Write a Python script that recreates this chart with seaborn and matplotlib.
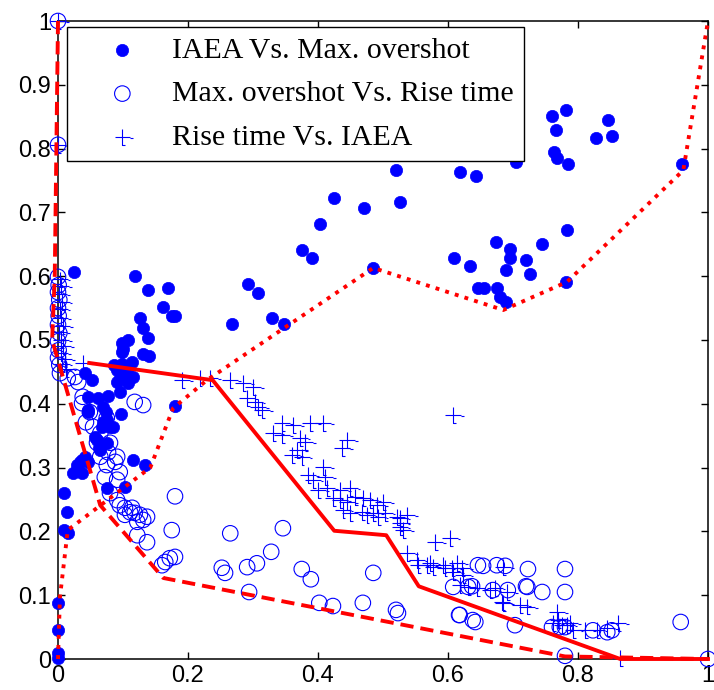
import numpy as np
import matplotlib
matplotlib.use('Agg')
import matplotlib.pyplot as plt
from matplotlib.path import Path
import seaborn as sns

# IAEA Vs. Max. overshot (filled dots)
iaea_x = [0.760, 0.782, 0.766, 0.846, 0.828, 0.852, 0.763, 0.768, 0.785, 0.705,
          0.520, 0.618, 0.643, 0.471, 0.526, 0.960, 0.783, 0.674, 0.745, 0.695,
          0.695, 0.609, 0.634, 0.720, 0.689, 0.726, 0.485, 0.646, 0.655, 0.675,
          0.680, 0.689, 0.782, 0.425, 0.403, 0.375, 0.391, 0.292, 0.308, 0.268,
          0.329, 0.348, 0.025, 0.118, 0.138, 0.169, 0.162, 0.175, 0.180, 0.126,
          0.131, 0.138, 0.108, 0.098, 0.100, 0.131, 0.140, 0.114, 0.098, 0.086,
          0.091, 0.106, 0.103, 0.095, 0.115, 0.091, 0.108, 0.042, 0.052, 0.095,
          0.077, 0.046, 0.062, 0.180, 0.069, 0.074, 0.046, 0.097, 0.075, 0.068,
          0.085, 0.060, 0.075, 0.063, 0.037, 0.115, 0.134, 0.029, 0.023, 0.037,
          0.034, 0.042, 0.075, 0.103, 0.009, 0.014, 0.009, 0.015, 0.000, 0.000,
          0.000, 0.000, 0.069, 0.080, 0.057, 0.065, 0.046, 0.046, 0.098]
iaea_y = [0.851, 0.860, 0.829, 0.845, 0.817, 0.820, 0.795, 0.785, 0.776, 0.779,
          0.766, 0.763, 0.757, 0.707, 0.716, 0.776, 0.672, 0.654, 0.650, 0.643,
          0.629, 0.629, 0.616, 0.625, 0.610, 0.603, 0.613, 0.582, 0.582, 0.582,
          0.567, 0.560, 0.591, 0.723, 0.682, 0.641, 0.629, 0.588, 0.574, 0.525,
          0.534, 0.525, 0.607, 0.600, 0.578, 0.582, 0.552, 0.538, 0.538, 0.534,
          0.519, 0.503, 0.500, 0.495, 0.486, 0.478, 0.475, 0.466, 0.462, 0.461,
          0.453, 0.453, 0.442, 0.440, 0.442, 0.434, 0.433, 0.448, 0.437, 0.418,
          0.412, 0.411, 0.409, 0.397, 0.395, 0.387, 0.387, 0.384, 0.375, 0.364,
          0.364, 0.343, 0.339, 0.331, 0.312, 0.312, 0.304, 0.304, 0.292, 0.292,
          0.309, 0.317, 0.268, 0.270, 0.260, 0.230, 0.202, 0.197, 0.088, 0.045,
          0.009, 0.002, 0.371, 0.364, 0.348, 0.328, 0.309, 0.390, 0.481]

# Max. overshot Vs. Rise time (open circles)
over_x = [0.000, 0.000, 0.000, 0.001, 0.000, 0.002, 0.000, 0.001, 0.000, 0.002,
          0.000, 0.001, 0.000, 0.002, 0.003, 0.015, 0.026, 0.031, 0.038, 0.037,
          0.049, 0.043, 0.054, 0.065, 0.060, 0.080, 0.077, 0.091, 0.065, 0.118,
          0.131, 0.075, 0.075, 0.088, 0.095, 0.072, 0.091, 0.080, 0.091, 0.095,
          0.103, 0.111, 0.118, 0.126, 0.137, 0.131, 0.103, 0.114, 0.122, 0.180,
          0.122, 0.137, 0.175, 0.165, 0.160, 0.172, 0.265, 0.252, 0.257, 0.180,
          0.346, 0.328, 0.306, 0.291, 0.294, 0.375, 0.389, 0.402, 0.423, 0.469,
          0.485, 0.520, 0.523, 0.618, 0.638, 0.642, 0.703, 0.608, 0.646, 0.654,
          0.675, 0.688, 0.723, 0.780, 0.631, 0.692, 0.722, 0.745, 0.780, 0.760,
          0.772, 0.637, 0.669, 0.720, 0.617, 0.823, 0.845, 0.852, 0.780, 0.780,
          0.958, 1.000]
over_y = [1.000, 0.806, 0.599, 0.586, 0.575, 0.563, 0.550, 0.538, 0.524, 0.511,
          0.498, 0.484, 0.472, 0.461, 0.448, 0.440, 0.442, 0.434, 0.411, 0.401,
          0.387, 0.371, 0.364, 0.354, 0.339, 0.339, 0.324, 0.317, 0.317, 0.403,
          0.398, 0.378, 0.304, 0.309, 0.293, 0.285, 0.281, 0.260, 0.249, 0.241,
          0.237, 0.230, 0.229, 0.226, 0.223, 0.218, 0.226, 0.237, 0.215, 0.255,
          0.194, 0.183, 0.202, 0.152, 0.147, 0.158, 0.197, 0.143, 0.135, 0.160,
          0.205, 0.168, 0.150, 0.144, 0.105, 0.141, 0.125, 0.088, 0.083, 0.088,
          0.135, 0.077, 0.072, 0.069, 0.061, 0.058, 0.053, 0.113, 0.147, 0.146,
          0.147, 0.146, 0.141, 0.141, 0.113, 0.108, 0.113, 0.105, 0.105, 0.050,
          0.050, 0.114, 0.108, 0.114, 0.069, 0.045, 0.042, 0.045, 0.050, 0.005,
          0.058, 0.000]

# Rise time Vs. IAEA (plus markers)
rise_x = [0.000, 0.000, 0.003, 0.005, 0.002, 0.006, 0.003, 0.004, 0.007, 0.002,
          0.005, 0.008, 0.004, 0.010, 0.006, 0.012, 0.038, 0.191, 0.218, 0.234,
          0.265, 0.285, 0.300, 0.291, 0.303, 0.308, 0.314, 0.345, 0.362, 0.388,
          0.408, 0.331, 0.345, 0.372, 0.380, 0.445, 0.437, 0.360, 0.368, 0.375,
          0.408, 0.385, 0.392, 0.411, 0.400, 0.414, 0.434, 0.449, 0.423, 0.434,
          0.445, 0.457, 0.469, 0.480, 0.491, 0.500, 0.438, 0.449, 0.468, 0.475,
          0.485, 0.492, 0.522, 0.537, 0.526, 0.531, 0.580, 0.603, 0.608, 0.537,
          0.552, 0.572, 0.592, 0.614, 0.503, 0.526, 0.526, 0.554, 0.568, 0.577,
          0.606, 0.622, 0.618, 0.631, 0.645, 0.672, 0.685, 0.685, 0.711, 0.722,
          0.768, 0.769, 0.775, 0.788, 0.595, 0.608, 0.623, 0.665, 0.691, 0.683,
          0.762, 0.783, 0.792, 0.811, 0.829, 0.845, 0.862, 0.865]
rise_y = [1.000, 0.806, 0.595, 0.585, 0.572, 0.560, 0.548, 0.535, 0.522, 0.512,
          0.500, 0.490, 0.480, 0.470, 0.462, 0.455, 0.464, 0.437, 0.440, 0.440,
          0.437, 0.433, 0.426, 0.409, 0.403, 0.395, 0.390, 0.370, 0.367, 0.370,
          0.370, 0.354, 0.351, 0.346, 0.340, 0.343, 0.331, 0.320, 0.328, 0.317,
          0.301, 0.288, 0.281, 0.285, 0.265, 0.268, 0.265, 0.268, 0.252, 0.249,
          0.246, 0.254, 0.252, 0.249, 0.241, 0.246, 0.234, 0.229, 0.230, 0.226,
          0.229, 0.223, 0.223, 0.226, 0.213, 0.202, 0.183, 0.190, 0.382, 0.166,
          0.155, 0.150, 0.147, 0.150, 0.229, 0.221, 0.207, 0.147, 0.147, 0.144,
          0.143, 0.143, 0.116, 0.113, 0.111, 0.111, 0.144, 0.088, 0.085, 0.082,
          0.074, 0.061, 0.053, 0.056, 0.143, 0.136, 0.132, 0.108, 0.105, 0.089,
          0.056, 0.053, 0.045, 0.045, 0.045, 0.049, 0.056, 0.002]

# Pareto fronts (red lines)
solid_x = [0.048, 0.238, 0.425, 0.505, 0.555, 0.865, 1.000]
solid_y = [0.464, 0.437, 0.201, 0.194, 0.114, 0.000, 0.000]
dashed_x = [0.000, -0.005, -0.009, 0.065, 0.162, 0.780, 1.000]
dashed_y = [1.000, 0.600, 0.500, 0.241, 0.127, 0.004, 0.000]
dotted_x = [0.000, 0.003, 0.015, 0.142, 0.177, 0.229, 0.485, 0.685, 0.783, 0.962, 1.000]
dotted_y = [0.000, 0.097, 0.202, 0.300, 0.393, 0.437, 0.613, 0.547, 0.591, 0.766, 1.000]

xticks = [0, 0.2, 0.4, 0.6, 0.8, 1]
xticklabels = ['0', '0.2', '0.4', '0.6', '0.8', '1']
yticks = [0, 0.1, 0.2, 0.3, 0.4, 0.5, 0.6, 0.7, 0.8, 0.9, 1]
yticklabels = ['0', '0.1', '0.2', '0.3', '0.4', '0.5', '0.6', '0.7', '0.8', '0.9', '1']

plt.rcParams['font.family'] = ['Liberation Sans', 'DejaVu Sans']

fig = plt.figure(figsize=(7.14, 6.9), dpi=100)
ax = fig.add_axes([58/714, 31/690, 650/714, 638/690])

# plus marker with the little foot, like the original rendering
plus_path = Path([(-1, 0), (1, 0), (0, 1), (0, -1), (0, -1), (0.35, -1), (1, -0.12), (1.35, -0.12)],
                 [Path.MOVETO, Path.LINETO, Path.MOVETO, Path.LINETO,
                  Path.MOVETO, Path.LINETO, Path.MOVETO, Path.LINETO])

sns.scatterplot(x=iaea_x, y=iaea_y, ax=ax, marker='o', s=78, color='blue',
                edgecolor='blue', linewidth=0.5, label='IAEA Vs. Max. overshot',
                clip_on=False, zorder=3)
sns.scatterplot(x=over_x, y=over_y, ax=ax, marker='o', s=125, color='blue',
                facecolors='none', edgecolor='blue', linewidth=0.8,
                label='Max. overshot Vs. Rise time', clip_on=False, zorder=3)
sns.scatterplot(x=rise_x, y=rise_y, ax=ax, marker=plus_path, s=230, color='blue',
                facecolors='none', edgecolor='blue', linewidth=0.8,
                label='Rise time Vs. IAEA', clip_on=False, zorder=3)

sns.lineplot(x=solid_x, y=solid_y, ax=ax, sort=False, estimator=None, color='red',
             linewidth=2.8, clip_on=False, zorder=4)
sns.lineplot(x=dashed_x, y=dashed_y, ax=ax, sort=False, estimator=None, color='red',
             linewidth=2.8, linestyle=(0, (3.4, 1.8)), clip_on=False, zorder=4)
sns.lineplot(x=dotted_x, y=dotted_y, ax=ax, sort=False, estimator=None, color='red',
             linewidth=2.8, linestyle=(0, (1, 1.6)), clip_on=False, zorder=4)

ax.set_xlim(0, 1)
ax.set_ylim(0, 1)
ax.set_xticks(xticks)
ax.set_xticklabels(xticklabels)
ax.set_yticks(yticks)
ax.set_yticklabels(yticklabels)
ax.tick_params(direction='in', top=True, right=True, length=5, width=1,
               labelsize=17, colors='black')
ax.tick_params(axis='y', pad=5)
ax.tick_params(axis='x', pad=4)
for sp in ax.spines.values():
    sp.set_linewidth(1.1)
    sp.set_color('black')

leg = ax.legend(loc='upper left', bbox_to_anchor=(0.014, 0.991), borderaxespad=0,
                prop={'family': 'Liberation Serif', 'size': 21.5}, frameon=True,
                fancybox=False, edgecolor='black', framealpha=1,
                borderpad=0.35, handlelength=3.0, handletextpad=0.15, labelspacing=0.55)
leg.get_frame().set_linewidth(1.0)
leg.set_zorder(5)

fig.savefig('out.png', dpi=100)
